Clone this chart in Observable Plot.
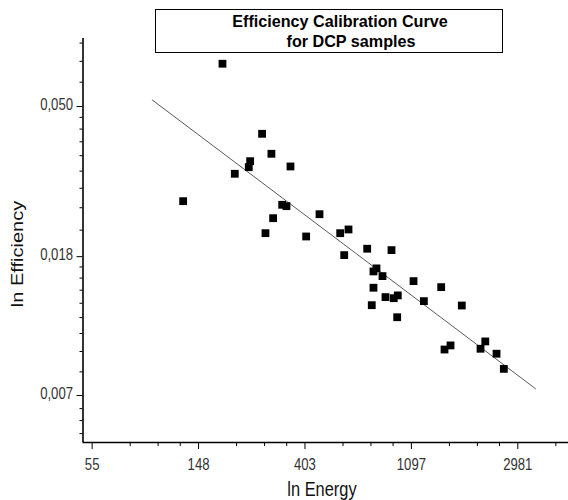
<!DOCTYPE html>
<html>
<head>
<meta charset="utf-8">
<script src="https://cdn.jsdelivr.net/npm/d3@7"></script>
<script src="https://cdn.jsdelivr.net/npm/@observablehq/plot@0.6"></script>
<style>
  html, body { margin: 0; padding: 0; background: #fff; }
  #wrap { position: relative; width: 568px; height: 500px; font-family: "Liberation Sans", Arial, sans-serif; }
  #title { position: absolute; left: 155px; top: 9px; width: 348px; height: 44px; border: 1px solid #000; background: #fff; box-sizing: border-box; font-weight: bold; font-size: 17px; color: #000; line-height: 18px; z-index: 2; }
  #title .l { position: absolute; width: 300px; height: 18px; text-align: center; white-space: nowrap; transform: scaleX(0.95); }
  #title .l1 { left: 34px; top: 3px; }
  #title .l2 { left: 44.5px; top: 22.5px; }
  #xlabel { position: absolute; left: 222px; width: 200px; top: 478.5px; text-align: center; font-size: 20px; line-height: 20px; color: #111; transform: scaleX(0.82); white-space: nowrap; }
  #ylabel { position: absolute; left: 17.3px; top: 253.5px; font-size: 20px; line-height: 20px; color: #111; white-space: nowrap; transform: translate(-50%, -50%) rotate(-90deg) scaleY(0.82); }
</style>
</head>
<body>
<div id="wrap">
  <div id="title"><div class="l l1">Efficiency Calibration Curve</div><div class="l l2">for DCP samples</div></div>
  <div id="xlabel">ln Energy</div>
  <div id="ylabel">ln Efficiency</div>
</div>
<script>
// Measured data (energy, efficiency)
const energy = [185.8, 269.6, 294.3, 241.0, 237.9, 208.6, 352.0, 128.4, 325.6, 339.0,
  299.1, 278.3, 462.4, 407.9, 561.7, 607.3, 583.3, 723.8, 909.6, 790.0,
  767.9, 835.8, 767.9, 859.8, 929.2, 965.0, 755.7, 959.6, 1119, 1451,
  1233, 1761, 1497, 1584, 2100, 2196, 2441, 2614];
const efficiency = [0.0669, 0.04153, 0.03625, 0.03447, 0.03309, 0.03164, 0.03325, 0.02626, 0.02562, 0.02538,
  0.02339, 0.02112, 0.02403, 0.02065, 0.02112, 0.02166, 0.01819, 0.01900, 0.01882, 0.01662,
  0.01628, 0.01577, 0.01457, 0.01367, 0.01357, 0.01383, 0.01294, 0.01192, 0.01524, 0.01463,
  0.01330, 0.01291, 0.00957, 0.00984, 0.00962, 0.01011, 0.00930, 0.00839];

// Fitted calibration line endpoints
const fitEnergy = [96, 3520];
const fitEfficiency = [0.0523, 0.00733];

// Axis ticks
const xTickValues = [54.598, 148.41, 403.43, 1096.6, 2981.0];
const xTickLabels = ["55", "148", "403", "1097", "2981"];
const yTickValues = [0.050, 0.018, 0.007];
const yTickLabels = ["0,050", "0,018", "0,007"];
const yMinorTicks = [0.077, 0.068, 0.059,
  0.04644, 0.04289, 0.03933, 0.03578, 0.03222, 0.02867, 0.02511, 0.02156,
  0.01678, 0.01556, 0.01433, 0.01311, 0.01189, 0.01067, 0.00944, 0.00822,
  0.0064, 0.0059, 0.0054];

const xDomain = [50.1, 4800];
const yDomain = [0.005083, 0.07943];

// x minor ticks: 4 linear subdivisions between majors
const xMajorExt = [...xTickValues, 8103.1];
const xMinorTicks = [];
for (let i = 0; i < xMajorExt.length - 1; i++) {
  const a = xMajorExt[i], b = xMajorExt[i + 1];
  for (let k = 1; k < 4; k++) {
    const v = a + (b - a) * k / 4;
    if (v < xDomain[1]) xMinorTicks.push(v);
  }
}

const points = energy.map((e, i) => ({energy: e, efficiency: efficiency[i]}));
const fit = fitEnergy.map((e, i) => ({energy: e, efficiency: fitEfficiency[i]}));

const chart = Plot.plot({
  width: 568,
  height: 500,
  marginLeft: 82.5,
  marginRight: 0,
  marginTop: 38,
  marginBottom: 58,
  style: {fontFamily: "'Liberation Sans', Arial, sans-serif", fontSize: "16px", background: "transparent", color: "#000"},
  x: {type: "log", domain: xDomain, axis: null},
  y: {type: "log", domain: yDomain, axis: null},
  marks: [
    Plot.axisX(xTickValues, {tickSize: 7, tickFormat: () => "", label: null, stroke: "#000"}),
    Plot.axisX(xMinorTicks, {tickSize: 4, tickFormat: () => "", label: null, stroke: "#000"}),
    Plot.axisY(yTickValues, {tickSize: 6, tickFormat: () => "", label: null, stroke: "#000"}),
    Plot.axisY(yMinorTicks, {tickSize: 3, tickFormat: () => "", label: null, stroke: "#000"}),
    Plot.text(xTickValues, {x: d => d, text: (d, i) => xTickLabels[i], frameAnchor: "bottom", lineAnchor: "top", dy: 16, fontSize: 16, fill: "#333"}),
    Plot.text(yTickValues, {y: d => d, text: (d, i) => yTickLabels[i], frameAnchor: "left", textAnchor: "end", lineAnchor: "middle", dx: -10, dy: -1.5, fontSize: 16, fill: "#333"}),
    Plot.ruleX([xDomain[0]], {stroke: "#000", strokeWidth: 1.6}),
    Plot.ruleY([yDomain[0]], {stroke: "#000", strokeWidth: 1.6}),
    Plot.line(fit, {x: "energy", y: "efficiency", stroke: "#5a5a5a", strokeWidth: 1}),
    Plot.dot(points, {x: "energy", y: "efficiency", symbol: "square", r: 4.4, fill: "#000", stroke: "none"})
  ]
});

// condense tick label glyphs horizontally, as in the reference
chart.querySelectorAll("text").forEach(t => {
  const tr = t.getAttribute("transform") || "";
  t.setAttribute("transform", (tr + " scale(0.82,1)").trim());
});

chart.style.position = "absolute";
chart.style.left = "0";
chart.style.top = "0";
document.getElementById("wrap").appendChild(chart);
</script>
</body>
</html>
